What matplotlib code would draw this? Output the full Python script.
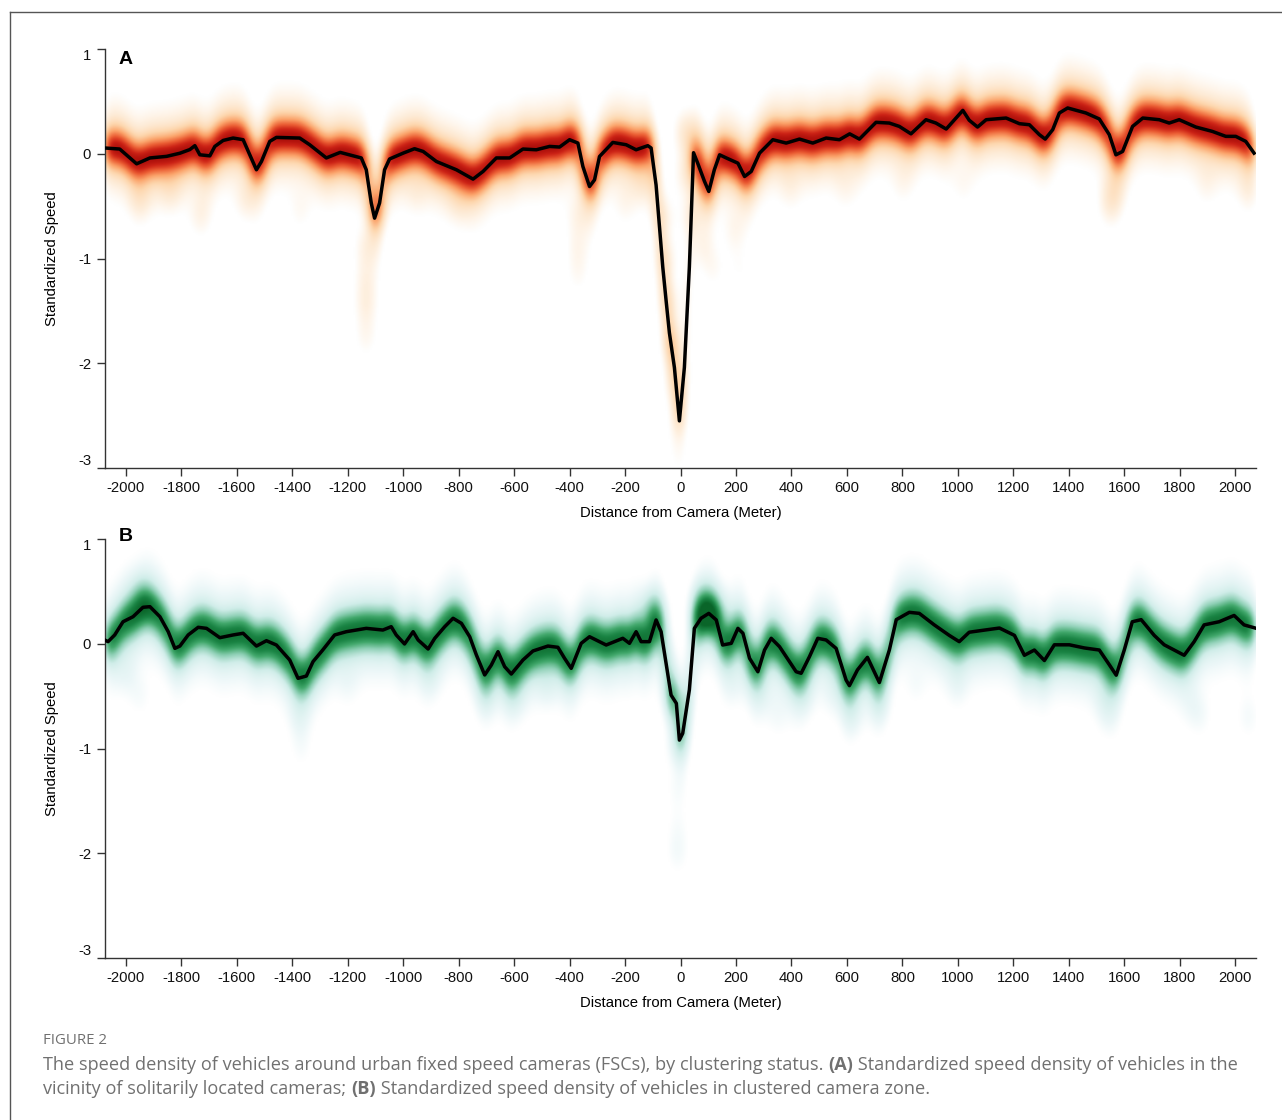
import numpy as np
import matplotlib
matplotlib.use("Agg")
import matplotlib.pyplot as plt
from matplotlib.colors import LinearSegmentedColormap
from matplotlib.lines import Line2D

# Panel A: mean standardized speed, solitary cameras
a_dist = [-2076, -2022, -1961, -1913, -1853, -1805, -1769, -1751, -1733, -1697, -1679,
          -1649, -1613, -1577, -1553, -1529, -1511, -1481, -1457, -1373, -1337, -1277,
          -1227, -1180, -1151, -1133, -1115, -1103, -1085, -1067, -1049, -1000, -959,
          -928, -880, -808, -748, -712, -664, -616, -568, -520, -472, -436, -400, -370,
          -352, -328, -310, -292, -244, -196, -160, -118, -106, -88, -64, -52, -40, -22,
          -4, 14, 32, 47, 62, 86, 102, 122, 141, 165, 207, 231, 255, 285, 333, 381, 429,
          477, 525, 573, 610, 645, 705, 753, 789, 831, 885, 921, 958, 1018, 1041, 1071,
          1102, 1174, 1222, 1258, 1294, 1315, 1342, 1366, 1396, 1462, 1510, 1546, 1570,
          1594, 1630, 1667, 1726, 1762, 1798, 1858, 1918, 1966, 2002, 2038, 2068]
a_speed = [0.055, 0.045, -0.096, -0.04, -0.025, 0.005, 0.04, 0.077, -0.01, -0.02, 0.07,
           0.127, 0.15, 0.134, -0.01, -0.153, -0.074, 0.118, 0.156, 0.15, 0.086, -0.04,
           0.013, -0.02, -0.04, -0.153, -0.47, -0.615, -0.47, -0.153, -0.05, 0.006, 0.048,
           0.022, -0.074, -0.153, -0.242, -0.169, -0.04, -0.04, 0.045, 0.038, 0.07, 0.064,
           0.134, 0.102, -0.121, -0.313, -0.249, -0.026, 0.108, 0.086, 0.038, 0.077, 0.055,
           -0.3, -1.08, -1.4, -1.71, -2.04, -2.55, -2.04, -1.08, 0.01, -0.09, -0.26, -0.36,
           -0.153, -0.01, -0.04, -0.09, -0.217, -0.169, 0.006, 0.134, 0.102, 0.14, 0.102,
           0.15, 0.134, 0.19, 0.14, 0.3, 0.293, 0.261, 0.19, 0.325, 0.293, 0.236, 0.414,
           0.32, 0.255, 0.325, 0.341, 0.287, 0.277, 0.182, 0.14, 0.23, 0.389, 0.437, 0.389,
           0.332, 0.182, -0.01, 0.022, 0.261, 0.341, 0.325, 0.293, 0.325, 0.255, 0.213,
           0.166, 0.166, 0.118, 0.006]

# Panel A: low-speed tails of the density
a_tail_dist = [-1950, -1840, -1733, -1570, -1373, -1135, -1135, -1135, -1135, -950, -800,
               -370, -370, -370, -200, -130, -60, -50, -40, -35, -25, -15, -10, 20, 60, 20,
               40, 80, 120, 195, 213, 400, 600, 800, 1020, 1550, 1560, 1900, 2050]
a_tail_speed = [-0.45, -0.35, -0.6, -0.45, -0.55, -0.9, -1.2, -1.45, -1.75, -0.4, -0.45,
                -0.6, -0.9, -1.15, -0.5, -0.3, -0.6, -1.0, -1.4, -1.8, -2.2, -2.6, -2.9,
                0.2, 0.0, -0.2, -0.6, -0.9, -1.1, -0.75, -1.1, -0.35, -0.35, -0.3, -0.3,
                -0.5, -0.35, -0.3, -0.35]
a_tail_weight = [0.12, 0.10, 0.12, 0.12, 0.08, 0.14, 0.12, 0.14, 0.10, 0.08, 0.09,
                 0.12, 0.10, 0.08, 0.08, 0.10, 0.12, 0.12, 0.10, 0.10, 0.08, 0.06, 0.05,
                 0.22, 0.18, 0.16, 0.12, 0.10, 0.08, 0.10, 0.06, 0.07, 0.07, 0.07, 0.08,
                 0.14, 0.12, 0.08, 0.10]

# Panel B: mean standardized speed, clustered cameras
b_dist = [-2076, -2064, -2040, -2010, -1974, -1938, -1913, -1877, -1847, -1823, -1805,
          -1775, -1739, -1709, -1661, -1613, -1577, -1529, -1493, -1457, -1409, -1379,
          -1349, -1325, -1290, -1247, -1205, -1133, -1073, -1043, -1025, -995, -964, -946,
          -910, -886, -850, -820, -790, -760, -736, -706, -682, -658, -634, -610, -568,
          -532, -478, -442, -418, -394, -358, -328, -268, -208, -184, -160, -142, -112,
          -88, -70, -52, -34, -15, -4, 8, 32, 50, 74, 102, 129, 152, 183, 207, 225, 249,
          279, 303, 327, 357, 393, 417, 435, 465, 495, 525, 561, 597, 609, 638, 674, 717,
          753, 778, 825, 861, 915, 969, 1005, 1041, 1095, 1150, 1204, 1240, 1276, 1312,
          1348, 1402, 1456, 1510, 1546, 1571, 1600, 1629, 1661, 1708, 1744, 1780, 1816,
          1852, 1888, 1942, 1996, 2032, 2072]
b_speed = [0.036, 0.02, 0.084, 0.21, 0.258, 0.348, 0.354, 0.258, 0.115, -0.044, -0.022,
           0.084, 0.157, 0.147, 0.058, 0.084, 0.1, -0.022, 0.029, -0.012, -0.155, -0.33,
           -0.308, -0.171, -0.06, 0.084, 0.115, 0.147, 0.131, 0.163, 0.084, -0.002, 0.115,
           0.036, -0.05, 0.052, 0.163, 0.243, 0.195, 0.067, -0.107, -0.298, -0.203, -0.076,
           -0.219, -0.289, -0.155, -0.069, -0.022, -0.034, -0.139, -0.235, 0.004, 0.067,
           -0.012, 0.052, 0.004, 0.115, 0.02, 0.02, 0.227, 0.115, -0.187, -0.49, -0.569,
           -0.92, -0.855, -0.44, 0.147, 0.243, 0.29, 0.227, -0.012, 0.004, 0.147, 0.1,
           -0.139, -0.267, -0.06, 0.052, -0.028, -0.171, -0.267, -0.282, -0.123, 0.052,
           0.036, -0.044, -0.346, -0.4, -0.25, -0.13, -0.37, -0.06, 0.23, 0.3, 0.29, 0.18,
           0.08, 0.02, 0.11, 0.13, 0.15, 0.08, -0.11, -0.06, -0.16, -0.01, -0.01, -0.04,
           -0.06, -0.2, -0.3, -0.06, 0.21, 0.23, 0.08, -0.01, -0.06, -0.11, 0.02, 0.18,
           0.21, 0.27, 0.18, 0.15]

# Panel B: low-speed tails and off-line clusters of the density
b_tail_dist = [-2000, -1950, -1950, -1380, -1370, -700, -600, -480, -100, -30, -20, -15,
               -10, -10, 80, 130, 200, 300, 350, 450, 550, 620, 720, 850, 1000, 1530,
               1540, 1850, 1880, 2050, -1200, -900]
b_tail_speed = [-0.3, -0.5, 0.45, -0.7, -1.0, -0.5, -0.5, -0.4, 0.3, -0.5, -1.0, -1.4,
                -1.75, -2.0, 0.35, 0.3, -0.4, -0.5, -0.7, -0.5, -0.5, -0.7, -0.6, -0.4,
                -0.4, -0.5, -0.7, -0.6, -0.7, -0.7, -0.4, -0.35]
b_tail_weight = [0.12, 0.10, 0.25, 0.10, 0.08, 0.12, 0.12, 0.12, 0.45, 0.12, 0.10, 0.08,
                 0.08, 0.12, 0.55, 0.35, 0.10, 0.10, 0.10, 0.10, 0.10, 0.12, 0.12, 0.09,
                 0.09, 0.12, 0.10, 0.10, 0.09, 0.12, 0.08, 0.08]

x_ticks = list(range(-2000, 2001, 200))
y_ticks = [1, 0, -1, -2, -3]

XLIM = (-2075, 2075)
YLIM = (-3, 1)
AXIS_COLOR = "#333333"
CAPTION_GREY = "#707070"

cmap_red = LinearSegmentedColormap.from_list(
    "reds", [(0.0, "#ffffff"), (0.04, "#ffffff"), (0.12, "#fef0e0"), (0.28, "#fdd6ad"),
             (0.46, "#fba46b"), (0.65, "#eb5e34"), (0.82, "#cc2316"), (1.0, "#9e0606")])
cmap_green = LinearSegmentedColormap.from_list(
    "greens", [(0.0, "#ffffff"), (0.04, "#ffffff"), (0.12, "#ecf7f8"), (0.28, "#d0ede9"),
               (0.46, "#8fd0b6"), (0.65, "#42a86c"), (0.82, "#1a8444"), (1.0, "#0a6529")])


def density_grid(dist, speed, t_dist, t_speed, t_weight, sy, wide, wide_w):
    """Smooth density image: mass spread along the mean curve plus tail clusters."""
    sx = 18
    xg = np.linspace(XLIM[0], XLIM[1], 800)
    yg = np.linspace(YLIM[0], YLIM[1], 500)
    d = np.asarray(dist, float)
    s = np.asarray(speed, float)
    px, py, pw = [], [], []
    for i in range(len(d) - 1):
        dx = d[i + 1] - d[i]
        dy = s[i + 1] - s[i]
        n = max(int(np.ceil(abs(dy) / 0.02)), int(np.ceil(dx / 4)), 2)
        t = (np.arange(n) + 0.5) / n
        # steep stretches of the mean curve carry a more scattered (lighter) density
        fade = 1.0 / (1.0 + (abs(dy) / dx / 0.02) ** 2)
        px.append(d[i] + t * dx)
        py.append(s[i] + t * dy)
        pw.append(np.full(n, dx / n * (0.35 + 0.65 * fade)))
    px, py, pw = np.concatenate(px), np.concatenate(py), np.concatenate(pw)
    gx = pw[:, None] * np.exp(-(xg[None, :] - px[:, None]) ** 2 / (2 * sx ** 2))
    gx /= np.sqrt(2 * np.pi) * sx
    core = np.exp(-(yg[:, None] - py[None, :]) ** 2 / (2 * sy ** 2)) @ gx
    broad = np.exp(-(yg[:, None] - py[None, :]) ** 2 / (2 * wide ** 2)) @ gx
    z = core + wide_w * broad
    td = np.asarray(t_dist, float)
    ts = np.asarray(t_speed, float)
    tw = np.asarray(t_weight, float)
    tails = (tw[None, None, :]
             * np.exp(-(xg[None, :, None] - td[None, None, :]) ** 2 / (2 * 30 ** 2))
             * np.exp(-(yg[:, None, None] - ts[None, None, :]) ** 2 / (2 * 0.15 ** 2))).sum(axis=2)
    return z + tails


def style_axes(ax, letter, letter_y):
    ax.set_xlim(*XLIM)
    ax.set_ylim(*YLIM)
    for side in ["top", "right"]:
        ax.spines[side].set_visible(False)
    for side in ["left", "bottom"]:
        ax.spines[side].set_color(AXIS_COLOR)
        ax.spines[side].set_linewidth(1)
    ax.set_xticks(x_ticks)
    ax.set_yticks(y_ticks)
    ax.set_yticklabels([str(v) for v in y_ticks])
    ax.tick_params(direction="out", length=6, width=1, color=AXIS_COLOR,
                   labelsize=10.7, labelcolor="#111111", pad=4)
    ax.tick_params(axis="x", pad=3)
    labels = ax.get_yticklabels()
    labels[0].set_verticalalignment("top")
    labels[-1].set_verticalalignment("bottom")
    ax.set_xlabel("Distance from Camera (Meter)", fontsize=10.7, labelpad=8)
    ax.set_ylabel("Standardized Speed", fontsize=10.7, labelpad=14)
    ax.text(-2000, letter_y, letter, fontsize=14, fontweight="bold",
            va="center", ha="center", clip_on=False)


plt.rcParams["font.family"] = ["Liberation Sans", "DejaVu Sans"]
plt.rcParams["axes.unicode_minus"] = False

fig = plt.figure(figsize=(12.82, 11.2), dpi=100)
ax_a = fig.add_axes([105 / 1282, 1 - 468 / 1120, 1151 / 1282, 419 / 1120])
ax_b = fig.add_axes([105 / 1282, 1 - 958 / 1120, 1151 / 1282, 419 / 1120])

panels = [
    (ax_a, a_dist, a_speed, a_tail_dist, a_tail_speed, a_tail_weight, cmap_red, "A", 0.9,
     dict(sy=0.12, wide=0.28, wide_w=0.4), 1.48),
    (ax_b, b_dist, b_speed, b_tail_dist, b_tail_speed, b_tail_weight, cmap_green, "B", 1.02,
     dict(sy=0.13, wide=0.3, wide_w=0.45), 1.6),
]
for ax, dist, speed, td, ts, tw, cmap, letter, ly, kw, vmax in panels:
    z = density_grid(dist, speed, td, ts, tw, **kw)
    ax.imshow(z, extent=[XLIM[0], XLIM[1], YLIM[0], YLIM[1]], origin="lower",
              aspect="auto", cmap=cmap, vmin=0, vmax=vmax, interpolation="bilinear", zorder=1)
    ax.plot(dist, speed, color="black", linewidth=2.5, solid_joinstyle="round", zorder=3)
    style_axes(ax, letter, ly)

# outer frame (left and top edges visible)
fig.add_artist(Line2D([10 / 1282, 10 / 1282], [0, 1 - 12 / 1120],
                      transform=fig.transFigure, color="#555555", linewidth=1))
fig.add_artist(Line2D([10 / 1282, 1], [1 - 12 / 1120, 1 - 12 / 1120],
                      transform=fig.transFigure, color="#555555", linewidth=1))

fig.text(43 / 1282, 1 - 1041 / 1120, "FIGURE 2", fontsize=10.8, color=CAPTION_GREY,
         family="Open Sans", va="center")

caption_lines = [
    [("The speed density of vehicles around urban fixed speed cameras (FSCs), by clustering status. ", "normal"),
     ("(A)", "bold"),
     (" Standardized speed density of vehicles in the", "normal")],
    [("vicinity of solitarily located cameras; ", "normal"),
     ("(B)", "bold"),
     (" Standardized speed density of vehicles in clustered camera zone.", "normal")],
]

renderer = fig.canvas.get_renderer()
for row, y_px in zip(caption_lines, [1065, 1089]):
    x = 43 / 1282
    for txt, weight in row:
        t = fig.text(x, 1 - y_px / 1120, txt, fontsize=13.1, color=CAPTION_GREY,
                     family="Open Sans", fontweight=weight, va="center")
        bb = t.get_window_extent(renderer=renderer)
        x += bb.width / fig.bbox.width

fig.savefig("out.png", dpi=100, facecolor="white")
